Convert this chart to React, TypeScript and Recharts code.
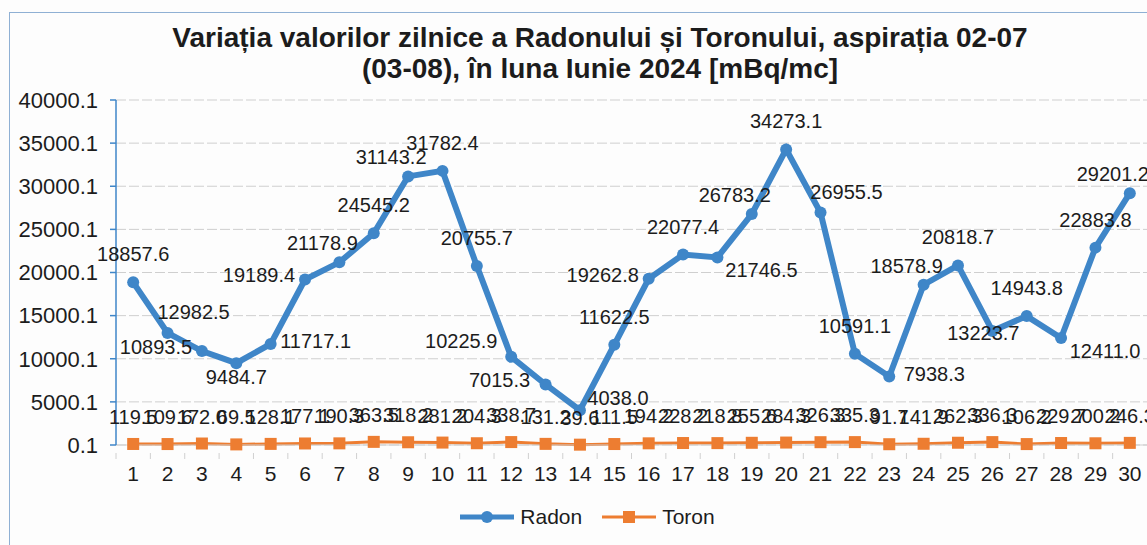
import { LineChart, Line, XAxis, YAxis, CartesianGrid, Legend, LabelList } from "recharts";

const FONT = '"Liberation Sans", Arial, Helvetica, sans-serif';
const RADON_COLOR = "#3f86c8";
const TORON_COLOR = "#ed7d31";

const days = [
  "1", "2", "3", "4", "5", "6", "7", "8", "9", "10",
  "11", "12", "13", "14", "15", "16", "17", "18", "19", "20",
  "21", "22", "23", "24", "25", "26", "27", "28", "29", "30",
];

const radon = [
  18857.6, 12982.5, 10893.5, 9484.7, 11717.1, 19189.4, 21178.9, 24545.2, 31143.2, 31782.4,
  20755.7, 10225.9, 7015.3, 4038.0, 11622.5, 19262.8, 22077.4, 21746.5, 26783.2, 34273.1,
  26955.5, 10591.1, 7938.3, 18578.9, 20818.7, 13223.7, 14943.8, 12411.0, 22883.8, 29201.2,
];

const toron = [
  119.5, 109.6, 172.0, 69.5, 128.1, 177.1, 190.3, 363.5, 318.2, 281.2,
  204.3, 338.7, 131.2, 39.6, 111.5, 194.2, 228.2, 218.8, 255.6, 284.3,
  326.3, 335.3, 91.7, 141.9, 262.3, 336.3, 106.2, 229.7, 200.2, 246.3,
];

const yTicks = [0.1, 5000.1, 10000.1, 15000.1, 20000.1, 25000.1, 30000.1, 35000.1, 40000.1];

// where each Radon label sits relative to its point (as placed in the original)
const radonLabelPos = [
  "above", "aboveRight", "left", "below", "right", "left", "aboveLeft", "above", "aboveLeft", "above",
  "above", "leftAbove", "left", "rightAbove", "above", "left", "above", "belowRight", "aboveLeft", "above",
  "aboveRight", "above", "right", "aboveLeft", "above", "center", "above", "belowRight", "above", "aboveLeft",
];

const OFFSETS: Record<string, [number, number]> = {
  above: [0, -28],
  aboveLeft: [-17, -19],
  aboveRight: [26, -21],
  left: [-46, -4],
  leftAbove: [-50, -16],
  right: [45, -3],
  rightAbove: [38, -12],
  below: [0, 14],
  belowRight: [44, 13],
  center: [-9, 2],
};

const data = days.map((d, i) => ({ day: d, radon: radon[i], toron: toron[i] }));

const BAND = 1031 / 30;

function RadonLabel(props: any) {
  const { x, y, value, index } = props;
  const [dx, dy] = OFFSETS[radonLabelPos[index]] ?? [0, -28];
  return (
    <text
      x={x + dx}
      y={y + dy}
      textAnchor="middle"
      dominantBaseline="central"
      fontSize={20}
      fontFamily={FONT}
      fill="#1c1c1c"
    >
      {Number(value).toFixed(1)}
    </text>
  );
}

function ToronLabel(props: any) {
  const { x, y, value } = props;
  return (
    <text
      x={x}
      y={y - 27}
      textAnchor="middle"
      dominantBaseline="central"
      fontSize={20}
      fontFamily={FONT}
      fill="#1c1c1c"
    >
      {Number(value).toFixed(1)}
    </text>
  );
}

function DayTick(props: any) {
  const { x, y, payload } = props;
  return (
    <g>
      <line x1={x - BAND / 2} x2={x - BAND / 2} y1={y} y2={y + 6} stroke="#d0d0d0" />
      <text
        x={x}
        y={y + 20}
        textAnchor="middle"
        dominantBaseline="central"
        fontSize={21}
        fontFamily={FONT}
        fill="#1c1c1c"
      >
        {payload.value}
      </text>
    </g>
  );
}

function LegendContent() {
  const item = (label: string, color: string, square: boolean) => (
    <div style={{ display: "flex", alignItems: "center", gap: 6 }}>
      <svg width={54} height={14}>
        <line x1={0} x2={54} y1={7} y2={7} stroke={color} strokeWidth={square ? 3 : 5} />
        {square ? (
          <rect x={21} y={1} width={12} height={12} fill={color} />
        ) : (
          <circle cx={27} cy={7} r={6} fill={color} />
        )}
      </svg>
      <span>{label}</span>
    </div>
  );
  return (
    <div
      style={{
        height: 30,
        display: "flex",
        justifyContent: "center",
        alignItems: "center",
        gap: 20,
        fontFamily: FONT,
        fontSize: 21,
        color: "#1c1c1c",
        paddingLeft: 20,
      }}
    >
      {item("Radon", RADON_COLOR, false)}
      {item("Toron", TORON_COLOR, true)}
    </div>
  );
}

export default function App() {
  return (
    <div
      style={{
        position: "absolute",
        left: 0,
        top: 0,
        width: 1147,
        height: 545,
        overflow: "hidden",
        background: "#fdfdfd",
      }}
    >
      <div
        style={{
          position: "absolute",
          left: 9,
          top: 12,
          width: 1200,
          height: 600,
          border: "1.5px solid #8fb0d4",
        }}
      />
      <div
        style={{
          position: "absolute",
          left: 0,
          top: 22,
          width: 1200,
          textAlign: "center",
          fontFamily: FONT,
          fontWeight: "bold",
          fontSize: 28,
          lineHeight: "31px",
          color: "#1c1c1c",
        }}
      >
        Variația valorilor zilnice a Radonului și Toronului, aspirația 02-07
        <br />
        (03-08), în luna Iunie 2024 [mBq/mc]
      </div>
      <div style={{ position: "absolute", left: 0, top: 0 }}>
        <LineChart
          width={1147}
          height={545}
          data={data}
          margin={{ top: 100, right: 0, left: 8, bottom: 13 }}
        >
          <CartesianGrid vertical={false} stroke="#cfcfcf" strokeDasharray="10 3" />
          <XAxis
            dataKey="day"
            type="category"
            interval={0}
            height={57}
            padding={{ left: BAND / 2, right: BAND / 2 }}
            axisLine={{ stroke: "#cfcfcf" }}
            tickLine={false}
            tick={<DayTick />}
          />
          <YAxis
            type="number"
            domain={[0.1, 40000.1]}
            ticks={yTicks}
            width={108}
            interval={0}
            axisLine={{ stroke: RADON_COLOR, strokeWidth: 1.5 }}
            tickLine={{ stroke: RADON_COLOR, strokeWidth: 1.5 }}
            tickSize={6}
            tickMargin={12}
            tickFormatter={(v: number) => v.toFixed(1)}
            tick={{ fontSize: 22, fontFamily: FONT, fill: "#1c1c1c" }}
          />
          <Legend verticalAlign="bottom" content={<LegendContent />} />
          <Line
            dataKey="toron"
            name="Toron"
            stroke={TORON_COLOR}
            strokeWidth={3}
            isAnimationActive={false}
            dot={(p: any) => (
              <rect
                key={`t${p.index}`}
                x={p.cx - 6}
                y={p.cy - 6}
                width={12}
                height={12}
                fill={TORON_COLOR}
              />
            )}
          >
            <LabelList dataKey="toron" content={<ToronLabel />} />
          </Line>
          <Line
            dataKey="radon"
            name="Radon"
            stroke={RADON_COLOR}
            strokeWidth={6}
            isAnimationActive={false}
            dot={{ r: 6, fill: RADON_COLOR, stroke: RADON_COLOR, strokeWidth: 0 }}
          >
            <LabelList dataKey="radon" content={<RadonLabel />} />
          </Line>
        </LineChart>
      </div>
    </div>
  );
}
